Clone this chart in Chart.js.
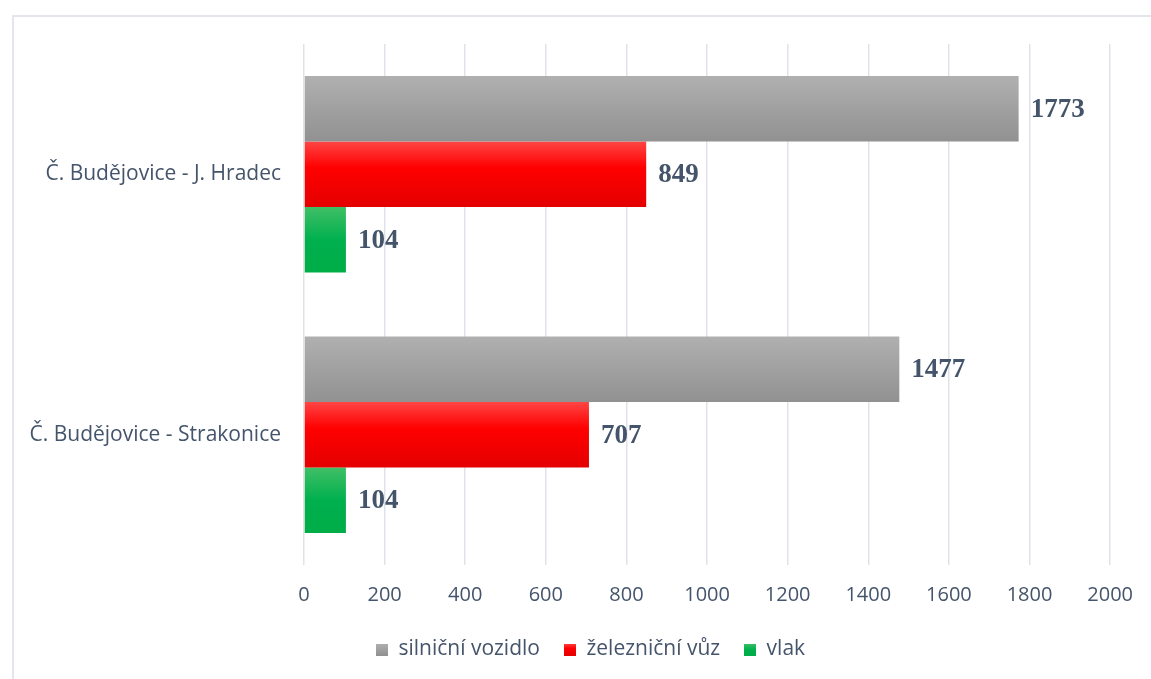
<!DOCTYPE html>
<html>
<head>
<meta charset="utf-8">
<script src="https://cdn.jsdelivr.net/npm/chart.js@4.4.1/dist/chart.umd.min.js"></script>
<style>
    html, body { margin: 0; padding: 0; background: #fff; }
    #frame {
        position: absolute; left: 12px; top: 15px; right: -20px; bottom: -20px;
        border-left: 2px solid #e3e7ec; border-top: 2px solid #e3e7ec;
    }
    #wrap { position: absolute; left: 0; top: 0; width: 1151px; height: 679px; }
</style>
</head>
<body>
<div id="frame"></div>
<div id="wrap"><canvas id="chart"></canvas></div>
<script>
    // ─── Data ───────────────────────────────────────────────────
    const categories = ['Č. Budějovice - J. Hradec', 'Č. Budějovice - Strakonice'];
    const seriesNames = ['silniční vozidlo', 'železniční vůz', 'vlak'];
    const roadVehicle = [1773, 1477];
    const railCar = [849, 707];
    const train = [104, 104];
    const xTicks = [0, 200, 400, 600, 800, 1000, 1200, 1400, 1600, 1800, 2000];

    // ─── Styles ─────────────────────────────────────────────────
    const TEXT = '#44546a';
    const FONT = "'Open Sans', sans-serif";
    const CAT_PCT = 0.755;
    const PAD_LEFT = 70;
    const gradients = [
        [[0, '#b0b0b0'], [1, '#919191']],
        [[0, '#ff4545'], [0.4, '#ff0000'], [1, '#e40000']],
        [[0, '#40bf66'], [0.5, '#00b04e'], [1, '#00ad47']],
    ];

    function barFill(stops) {
        return function (ctx) {
            const chart = ctx.chart;
            const y = chart.scales.y;
            if (!y || !chart.chartArea) return stops[0][1];
            const band = (y.bottom - y.top) / categories.length;
            const thick = band * CAT_PCT / seriesNames.length;
            const c = y.getPixelForValue(ctx.dataIndex);
            const top = c - 1.5 * thick + ctx.datasetIndex * thick;
            const g = chart.ctx.createLinearGradient(0, top, 0, top + thick);
            stops.forEach(function (s) { g.addColorStop(s[0], s[1]); });
            return g;
        };
    }

    function legendSwatch(stops) {
        const c = document.createElement('canvas');
        c.width = 12; c.height = 12;
        const x = c.getContext('2d');
        const g = x.createLinearGradient(0, 0, 0, 12);
        stops.forEach(function (s) { g.addColorStop(s[0], s[1]); });
        x.fillStyle = g;
        x.fillRect(0, 0, 12, 12);
        return c;
    }

    // value labels drawn right of each bar
    const valueLabels = {
        id: 'valueLabels',
        afterLayout(chart) {
            // let the category labels use the space left of the padding
            chart.scales.y.left = 0;
        },
        afterDatasetsDraw(chart) {
            const ctx = chart.ctx;
            ctx.save();
            ctx.font = "bold 27px 'Liberation Serif', 'Times New Roman', serif";
            ctx.fillStyle = TEXT;
            ctx.textAlign = 'left';
            ctx.textBaseline = 'middle';
            chart.data.datasets.forEach(function (ds, i) {
                chart.getDatasetMeta(i).data.forEach(function (bar, j) {
                    ctx.fillText(String(ds.data[j]), bar.x + 12, bar.y + 1);
                });
            });
            ctx.restore();
        }
    };

    const seriesData = [roadVehicle, railCar, train];

    new Chart(document.getElementById('chart'), {
        type: 'bar',
        data: {
            labels: categories,
            datasets: seriesNames.map(function (name, i) {
                return {
                    label: name,
                    data: seriesData[i],
                    backgroundColor: barFill(gradients[i]),
                    borderWidth: 0,
                    categoryPercentage: CAT_PCT,
                    barPercentage: 1,
                };
            }),
        },
        options: {
            indexAxis: 'y',
            responsive: true,
            maintainAspectRatio: false,
            animation: false,
            layout: { padding: { top: 44, right: 40, left: PAD_LEFT, bottom: 9 } },
            plugins: {
                tooltip: { enabled: false },
                legend: {
                    position: 'bottom',
                    labels: {
                        color: TEXT,
                        font: { family: FONT, size: 21 },
                        usePointStyle: true,
                        boxWidth: 12,
                        boxHeight: 12,
                        padding: 24,
                        generateLabels: function () {
                            return seriesNames.map(function (name, i) {
                                return {
                                    text: name,
                                    pointStyle: legendSwatch(gradients[i]),
                                    fillStyle: gradients[i][0][1],
                                    strokeStyle: 'transparent',
                                    lineWidth: 0,
                                    fontColor: TEXT,
                                    datasetIndex: i,
                                    hidden: false,
                                };
                            });
                        },
                    },
                },
            },
            scales: {
                x: {
                    min: 0,
                    max: 2000,
                    afterBuildTicks: function (scale) {
                        scale.ticks = xTicks.map(function (v) { return { value: v }; });
                    },
                    afterFit: function (scale) { scale.height = 50; },
                    grid: { color: '#dfe3e9', lineWidth: 1.5, drawTicks: false },
                    border: { display: false },
                    ticks: {
                        color: TEXT,
                        font: { family: FONT, size: 20 },
                        padding: 18,
                        callback: function (v) { return String(v); },
                    },
                },
                y: {
                    afterFit: function (scale) { scale.width = 304 - PAD_LEFT; },
                    grid: { display: false },
                    border: { display: false },
                    ticks: { color: TEXT, font: { family: FONT, size: 21 }, padding: 15 },
                },
            },
        },
        plugins: [valueLabels],
    });
</script>
</body>
</html>
